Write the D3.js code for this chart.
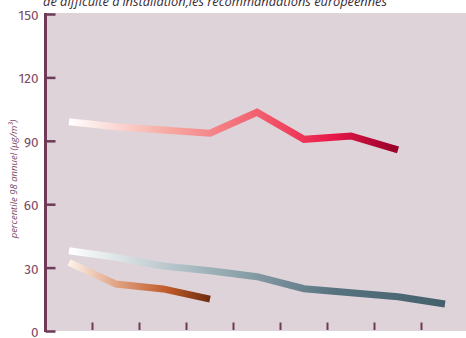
<!DOCTYPE html>
<html><head><meta charset="utf-8">
<script src="https://cdn.jsdelivr.net/npm/d3@7"></script>
<style>html,body{margin:0;padding:0;background:#fff;}</style>
</head><body>
<svg id="c" width="466" height="338"></svg>
<script>
const categories = ["1","2","3","4","5","6","7","8","9"];
const redValues = [99, 96.7, 95.1, 93.6, 103.5, 90.7, 92.3, 85.7];
const grayValues = [38, 34.9, 30.8, 28.5, 25.7, 20, 18.1, 16.2, 12.8];
const orangeValues = [32.5, 22.2, 19.9, 15.1];
const yTicks = [0, 30, 60, 90, 120, 150];
const title = "de difficulté d'installation,les recommandations européennes";
const yLabel = "percentile 98 annuel (µg/m³)";

const svg = d3.select("#c");
const axisColor = "#6e3a56";
const x = d3.scaleBand().domain(categories).range([45.5, 468.5]);
const y = d3.scaleLinear().domain([0, 150]).range([331, 14]);

svg.append("rect").attr("x", 44).attr("y", y(150) - 1).attr("width", 466 - 44)
  .attr("height", y(0) - y(150) + 1).attr("fill", "#ddd3d9");

svg.append("text").attr("x", 43).attr("y", 6)
  .attr("font-family", "Open Sans").attr("font-style", "italic").attr("font-size", 12.8)
  .attr("fill", "#3b2c36").text(title);

// y axis
const yAxis = d3.axisLeft(y).tickValues(yTicks).tickSize(-10).tickPadding(18).tickFormat(d3.format("d"));
const gy = svg.append("g").attr("transform", "translate(45.5,0)").call(yAxis);
gy.select(".domain").attr("stroke", axisColor).attr("stroke-width", 3).attr("d", `M0,${y(150)-1}V${y(0)+1}`);
gy.selectAll(".tick line").attr("stroke", axisColor).attr("stroke-width", 2.5).attr("x1", 0);
gy.selectAll(".tick text").attr("fill", "#7a4862").attr("font-family", "Fira Sans, Open Sans")
  .attr("font-size", 13.5).attr("dy", "0.4em").attr("x", -7);

// x ticks at band boundaries
const boundaries = categories.slice(1);
const gx = svg.append("g");
gx.selectAll("line").data(boundaries).enter().append("line")
  .attr("x1", d => x(d)).attr("x2", d => x(d))
  .attr("y1", y(0) - 8.5).attr("y2", y(0) - 1)
  .attr("stroke", axisColor).attr("stroke-width", 2);

svg.append("text").attr("transform", `translate(17,${179}) rotate(-90)`)
  .attr("text-anchor", "middle").attr("font-family", "Open Sans").attr("font-style", "italic")
  .attr("font-size", 9.5).attr("fill", "#7a4862").text(yLabel);

const defs = svg.append("defs");
function series(vals, id, stops) {
  const x0 = x(categories[0]) + x.bandwidth() / 2;
  const x1 = x(categories[vals.length - 1]) + x.bandwidth() / 2;
  const g = defs.append("linearGradient").attr("id", id).attr("gradientUnits", "userSpaceOnUse")
    .attr("x1", x0).attr("x2", x1).attr("y1", 0).attr("y2", 0);
  stops.forEach(s => g.append("stop").attr("offset", s[0]).attr("stop-color", s[1]));
  const line = d3.line().x((d, i) => x(categories[i]) + x.bandwidth() / 2).y(d => y(d));
  svg.append("path").attr("d", line(vals)).attr("fill", "none")
    .attr("stroke", `url(#${id})`).attr("stroke-width", 7)
    .attr("stroke-linecap", "butt").attr("stroke-linejoin", "miter");
}
series(redValues, "gr", [[0, "#ffffff"], [0.3, "#f6aaa2"], [0.6, "#f2586a"], [0.8, "#e8184a"], [1, "#960028"]]);
series(grayValues, "gg", [[0, "#ffffff"], [0.25, "#bccad0"], [0.45, "#8ca2ab"], [0.7, "#587380"], [1, "#44606b"]]);
series(orangeValues, "go", [[0, "#fdf2ea"], [0.35, "#dea080"], [0.7, "#c05a2a"], [1, "#6e2c10"]]);
</script>
</body></html>
